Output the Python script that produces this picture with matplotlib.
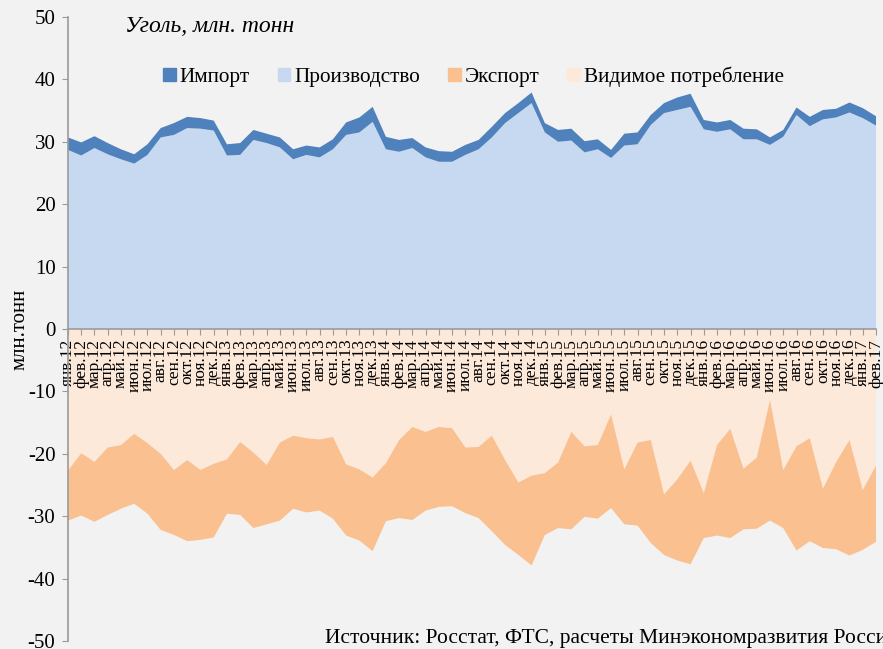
import matplotlib
matplotlib.use("Agg")
import matplotlib.pyplot as plt
from matplotlib.patches import Patch
import numpy as np

plt.rcParams['font.family'] = ['Liberation Serif', 'DejaVu Serif']
plt.rcParams['axes.unicode_minus'] = False

month_names = ['янв', 'фев', 'мар', 'апр', 'май', 'июн', 'июл', 'авг', 'сен', 'окт', 'ноя', 'дек']
years = ['12', '13', '14', '15', '16', '17']
labels = [f"{m}.{y}" for y in years for m in month_names][:62]

production = [28.7, 27.8, 29.0, 28.0, 27.2, 26.5, 27.9, 30.7, 31.1, 32.2, 32.1, 31.8,
              27.8, 27.9, 30.3, 29.8, 29.1, 27.2, 27.9, 27.5, 28.8, 31.1, 31.5, 33.2,
              28.8, 28.4, 29.0, 27.5, 26.8, 26.8, 27.9, 28.8, 30.7, 33.0, 34.6, 36.2,
              31.5, 30.0, 30.2, 28.3, 28.8, 27.4, 29.4, 29.6, 32.7, 34.6, 35.1, 35.6,
              32.0, 31.6, 32.0, 30.4, 30.4, 29.5, 30.8, 34.3, 32.5, 33.6, 33.9, 34.7,
              33.8, 32.6]
imports = [2.0, 2.1, 1.9, 1.8, 1.6, 1.5, 1.7, 1.5, 1.9, 1.8, 1.7, 1.6,
           1.8, 1.9, 1.6, 1.5, 1.6, 1.6, 1.5, 1.6, 1.6, 2.0, 2.4, 2.4,
           2.0, 1.9, 1.6, 1.6, 1.7, 1.6, 1.6, 1.5, 1.7, 1.6, 1.6, 1.7,
           1.5, 1.9, 1.9, 1.8, 1.6, 1.3, 1.9, 1.9, 1.6, 1.6, 2.0, 2.1,
           1.5, 1.5, 1.5, 1.7, 1.6, 1.2, 1.1, 1.2, 1.5, 1.5, 1.4, 1.6,
           1.6, 1.5]
consumption = [22.7, 19.9, 21.3, 19.0, 18.6, 16.8, 18.3, 20.0, 22.6, 21.0, 22.6, 21.6,
               20.9, 18.1, 19.8, 21.8, 18.2, 17.1, 17.5, 17.7, 17.3, 21.7, 22.5, 23.8,
               21.5, 17.8, 15.7, 16.5, 15.7, 15.9, 19.0, 18.9, 17.1, 21.0, 24.6, 23.5,
               23.1, 21.4, 16.5, 18.8, 18.6, 13.7, 22.5, 18.2, 17.8, 26.5, 24.1, 21.1,
               26.3, 18.6, 16.0, 22.4, 20.6, 11.4, 22.6, 18.8, 17.5, 25.6, 21.3, 17.8,
               25.8, 21.9]
exports = [8.0, 10.0, 9.6, 10.8, 10.2, 11.2, 11.3, 12.2, 10.4, 13.0, 11.2, 11.8,
           8.7, 11.7, 12.1, 9.5, 12.5, 11.7, 11.9, 11.4, 13.1, 11.4, 11.4, 11.8,
           9.3, 12.5, 14.9, 12.6, 12.8, 12.5, 10.5, 11.4, 15.3, 13.6, 11.6, 14.4,
           9.9, 10.5, 15.6, 11.3, 11.8, 15.0, 8.8, 13.3, 16.5, 9.7, 13.0, 16.6,
           7.2, 14.5, 17.5, 9.7, 11.4, 19.3, 9.3, 16.7, 16.5, 9.5, 14.0, 18.5,
           9.6, 12.2]

c_imp = '#4f81bd'
c_prod = '#c6d9f0'
c_exp = '#fac090'
c_cons = '#fde9d9'
bg = '#f2f2f2'
gray = '#9a9a9a'

fig = plt.figure(figsize=(8.83, 6.49), dpi=100, facecolor=bg)
ax = fig.add_axes([68 / 883, 8 / 649, 808 / 883, 624 / 649])
ax.set_facecolor(bg)

x = np.arange(len(labels))
ax.stackplot(x, production, imports, colors=[c_prod, c_imp], linewidth=0)
ax.stackplot(x, -np.array(consumption), -np.array(exports), colors=[c_cons, c_exp], linewidth=0)

ax.set_xlim(0, len(labels) - 1)
ax.set_ylim(-50, 50)
ax.set_yticks(np.arange(-50, 51, 10))

for s in ['top', 'right']:
    ax.spines[s].set_visible(False)
ax.spines['left'].set_color(gray)
ax.spines['bottom'].set_color(gray)
ax.spines['bottom'].set_position(('data', 0))
ax.spines['left'].set_linewidth(1.2)
ax.spines['bottom'].set_linewidth(1.2)

ax.set_xticks(x)
ax.set_xticklabels(labels, rotation=90, fontsize=12.5, va='top', ha='center')
ax.tick_params(axis='x', direction='out', length=4, color=gray, pad=3)
ax.tick_params(axis='y', direction='out', length=4, color=gray, labelsize=15, pad=5)

handles = [Patch(color=c_imp, label='Импорт'),
           Patch(color=c_prod, label='Производство'),
           Patch(color=c_exp, label='Экспорт'),
           Patch(color=c_cons, label='Видимое потребление')]
ax.legend(handles=handles, ncol=4, frameon=False, loc='center',
          bbox_to_anchor=(0.502, 0.904), fontsize=15.3,
          handlelength=0.6, handleheight=0.6, handletextpad=0.2, columnspacing=1.3)

fig.text(125 / 883, 1 - 27 / 649, 'Уголь, млн. тонн', style='italic', fontsize=17,
         va='center', ha='left')
fig.text(20 / 883, 1 - 329 / 649, 'млн.тонн', rotation=90, fontsize=15,
         va='center', ha='center')
fig.text(325 / 883, 1 - 638 / 649, 'Источник: Росстат, ФТС, расчеты Минэкономразвития России',
         fontsize=15.5, va='center', ha='left')

fig.savefig('out.png', dpi=100, facecolor=bg)
